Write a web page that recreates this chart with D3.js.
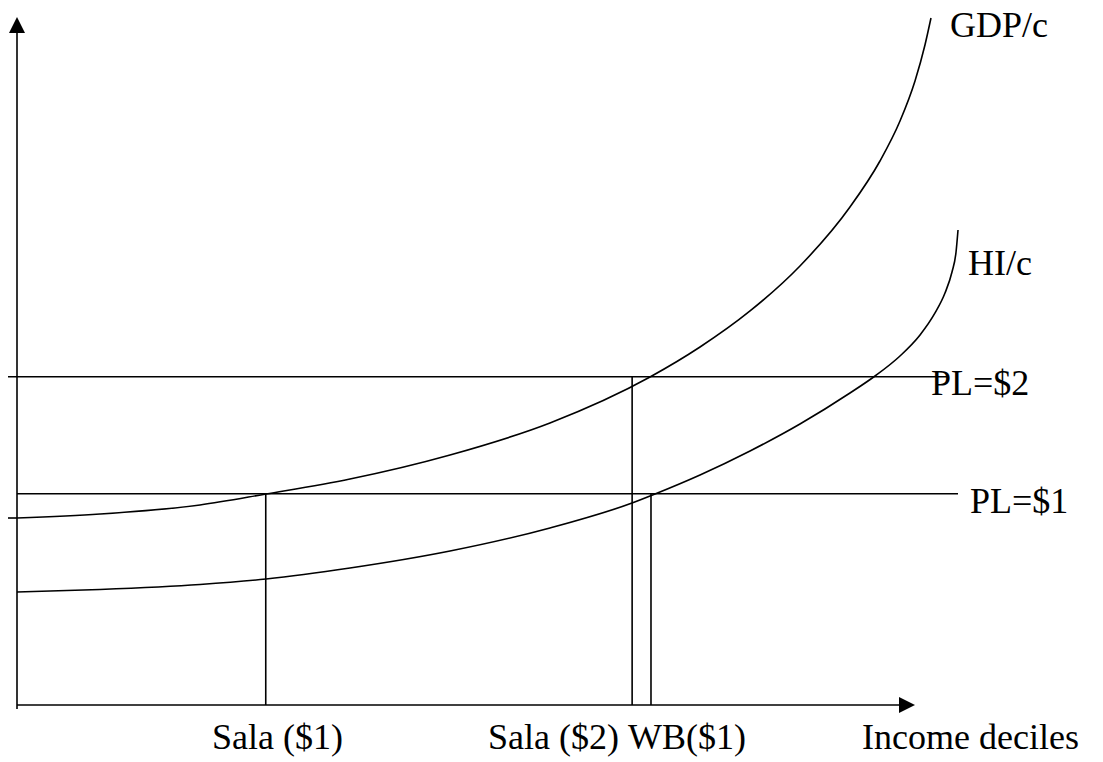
<!DOCTYPE html>
<html>
<head>
<meta charset="utf-8">
<script src="https://cdn.jsdelivr.net/npm/d3@7/dist/d3.min.js"></script>
<style>
  html, body { margin: 0; padding: 0; background: #fff; }
  svg { display: block; }
  text { font-family: "Liberation Serif", "Times New Roman", serif; font-size: 36px; fill: #000; }
</style>
</head>
<body>
<svg id="chart" width="1103" height="762"></svg>
<script>
// ---- Data (illustrative units: income decile position 0-100, income level 0-100) ----
const gdpX = [0, 9.24, 20.38, 27.73, 37.08, 48.22, 59.35, 70.49, 76.06, 81.63, 87.19, 92.76, 96.10, 98.33, 100.0, 101.11, 101.78];
const gdpY = [27.18, 27.76, 29.07, 30.67, 32.85, 36.34, 40.99, 47.67, 52.03, 57.27, 63.81, 72.38, 79.07, 84.88, 90.70, 95.93, 99.85];
const hiX  = [0, 9.24, 20.38, 27.73, 37.08, 48.22, 59.35, 68.49, 71.05, 76.06, 81.63, 87.19, 92.76, 95.55, 98.33, 100.56, 102.23, 103.34, 104.12, 104.57, 104.79];
const hiY  = [16.42, 16.79, 17.51, 18.31, 19.91, 22.38, 25.73, 29.36, 30.67, 33.43, 36.92, 40.84, 45.35, 47.82, 50.73, 53.78, 56.98, 59.88, 62.94, 65.84, 69.04];
const povertyLines = ["PL=$2", "PL=$1"];
const povertyValues = [47.7, 30.7];
const markerLabels = ["Sala ($1)", "Sala ($2)", "WB($1)"];
const markerX = [27.7, 68.5, 70.6];
const markerTop = [30.7, 47.7, 30.7];
const curveLabels = ["GDP/c", "HI/c"];
const xAxisLabel = "Income deciles";

// ---- Scales ----
const x = d3.scaleLinear().domain([0, 100]).range([17, 915]);
const y = d3.scaleLinear().domain([0, 100]).range([705, 17]);

const svg = d3.select("#chart");
const g = svg.append("g").attr("stroke", "#000").attr("stroke-width", 1.6).attr("fill", "none");

// Axes
g.append("line").attr("x1", x(0)).attr("y1", y(0) + 4).attr("x2", x(0)).attr("y2", y(100) + 14);
g.append("line").attr("x1", x(0)).attr("y1", y(0)).attr("x2", x(100) - 14).attr("y2", y(0));
// arrow heads
svg.append("path").attr("fill", "#000")
  .attr("d", `M${x(0)},${y(100)} L${x(0) - 8},${y(100) + 16} L${x(0) + 8},${y(100) + 16} Z`);
svg.append("path").attr("fill", "#000")
  .attr("d", `M${x(100)},${y(0)} L${x(100) - 16},${y(0) - 8} L${x(100) - 16},${y(0) + 8} Z`);

// y tick (left of axis) at GDP/c start
g.append("line").attr("x1", x(0) - 9).attr("x2", x(0)).attr("y1", y(gdpY[0])).attr("y2", y(gdpY[0]));

// Poverty lines
const plStart = [x(0) - 9, x(0)];
const plEnd = [948, 958];
povertyValues.forEach((v, i) => {
  g.append("line").attr("x1", plStart[i]).attr("x2", plEnd[i]).attr("y1", y(v)).attr("y2", y(v));
});

// Vertical markers
markerX.forEach((mx, i) => {
  g.append("line").attr("x1", x(mx)).attr("x2", x(mx)).attr("y1", y(markerTop[i])).attr("y2", y(0));
});

// Curves
const line = d3.line().x(d => x(d[0])).y(d => y(d[1])).curve(d3.curveMonotoneX);
g.append("path").attr("d", line(gdpX.map((v, i) => [v, gdpY[i]])));
g.append("path").attr("d", line(hiX.map((v, i) => [v, hiY[i]])));

// Labels
svg.append("text").attr("x", 950).attr("y", 37).text(curveLabels[0]);
svg.append("text").attr("x", 968).attr("y", 275).text(curveLabels[1]);
svg.append("text").attr("x", 931).attr("y", 395).text(povertyLines[0]);
svg.append("text").attr("x", 970).attr("y", 513).text(povertyLines[1]);
const mlx = [212, 488, 628];
markerLabels.forEach((t, i) => {
  svg.append("text").attr("x", mlx[i]).attr("y", 749).text(t);
});
svg.append("text").attr("x", 862).attr("y", 749).text(xAxisLabel);
</script>
</body>
</html>
